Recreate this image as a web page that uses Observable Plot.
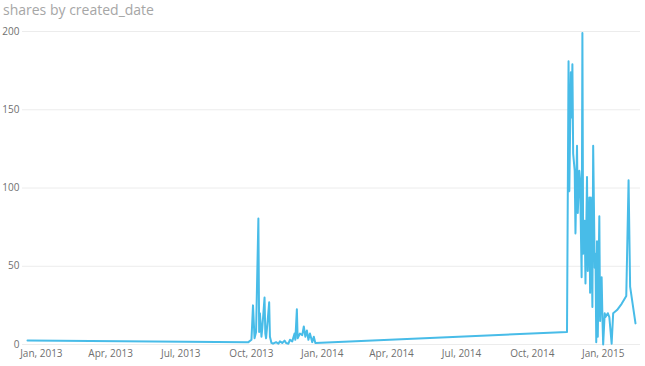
<!DOCTYPE html>
<html><head><meta charset="utf-8">
<script src="https://cdn.jsdelivr.net/npm/d3@7"></script>
<script src="https://cdn.jsdelivr.net/npm/@observablehq/plot@0.6"></script>
<style>
body{margin:0;background:#fff;font-family:"Open Sans",sans-serif}
#title{height:20px;line-height:19px;padding-left:3px;font-size:14px;color:#a6a6a6;white-space:nowrap}
</style></head><body>
<div id="title">shares by created_date</div>
<div id="chart"></div>
<script>
const dates = [
"2012-12-14","2013-09-27","2013-10-01","2013-10-03","2013-10-05","2013-10-07","2013-10-10","2013-10-11","2013-10-12","2013-10-14",
"2013-10-15","2013-10-18","2013-10-19","2013-10-20","2013-10-22","2013-10-24","2013-10-25","2013-10-27","2013-10-29","2013-11-02",
"2013-11-05","2013-11-07","2013-11-10","2013-11-13","2013-11-15","2013-11-18","2013-11-20","2013-11-23","2013-11-26","2013-11-27",
"2013-11-29","2013-11-30","2013-12-03","2013-12-06","2013-12-08","2013-12-10","2013-12-12","2013-12-14","2013-12-16","2013-12-19",
"2013-12-21","2013-12-23","2014-11-15","2014-11-17","2014-11-18","2014-11-20","2014-11-21","2014-11-22","2014-11-23","2014-11-25",
"2014-11-26","2014-11-28","2014-11-29","2014-12-01","2014-12-02","2014-12-04","2014-12-05","2014-12-06","2014-12-08","2014-12-09",
"2014-12-11","2014-12-12","2014-12-14","2014-12-15","2014-12-16","2014-12-18","2014-12-19","2014-12-21","2014-12-22","2014-12-23",
"2014-12-24","2014-12-25","2014-12-27","2014-12-28","2014-12-30","2014-12-31","2015-01-01","2015-01-03","2015-01-04","2015-01-07",
"2015-01-09","2015-01-12","2015-01-14","2015-01-19","2015-01-25","2015-01-31","2015-02-03","2015-02-05","2015-02-12"
];
const shares = [
2.5,1.5,3,25,4,8,80.5,8,20,5,
10,30,7,4,15,27,5,1,0.5,1.5,
0.5,2,1,2.5,1,0.5,3,2,7,3,
22.5,4,7,6,11.5,5,9,3,7,1.5,
5,1,8,181,98,174,145,179,122,111,
71,127,84,111,105,43,199,58,79,39,
107,47,94,33,94,24,127,49,58,1.5,
66,5,82,15,43,17.5,0,20,17.5,20,
17.5,0.5,20,22,26,31,105,37,13.5
];
const xTickDates = ["2013-01-01","2013-04-01","2013-07-01","2013-10-01","2014-01-01","2014-04-01","2014-07-01","2014-10-01","2015-01-01"];
const yTicks = [0,50,100,150,200];

const data = dates.map((d,i)=>({date:new Date(d+"T00:00:00Z"), shares:shares[i]}));
const fmt = d3.utcFormat("%b, %Y");
const chart = Plot.plot({
  width:645, height:346,
  marginTop:11, marginBottom:22, marginLeft:22, marginRight:5,
  style:{fontFamily:"'Open Sans', sans-serif", fontSize:"10px", color:"#6f6f6f", background:"#fff"},
  x:{type:"utc", domain:[data[0].date, data[data.length-1].date], insetLeft:5, insetRight:5,
     ticks:xTickDates.map(d=>new Date(d+"T00:00:00Z")), tickFormat:fmt, tickSize:0, tickPadding:5, label:null},
  y:{domain:[0,200], ticks:yTicks, tickSize:0, tickPadding:3, label:null},
  marks:[
    Plot.ruleY(yTicks,{stroke:"#ececec"}),
    Plot.lineY(data,{x:"date", y:"shares", stroke:"#48bce8", strokeWidth:2})
  ]
});
document.getElementById("chart").appendChild(chart);
</script>
</body></html>
